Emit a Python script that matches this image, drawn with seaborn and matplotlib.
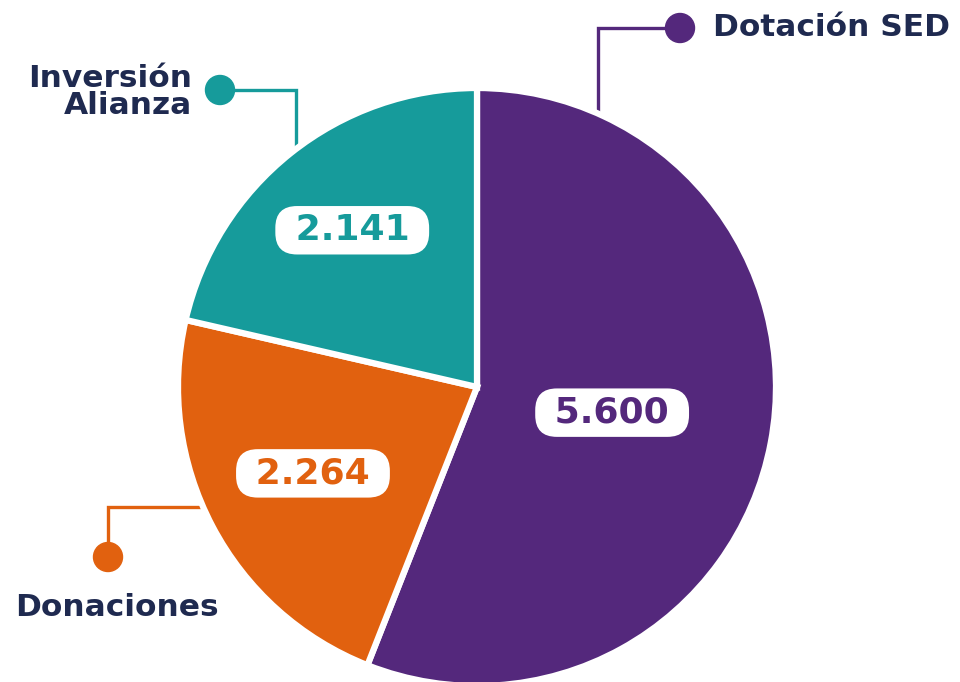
import matplotlib
matplotlib.use("Agg")
import matplotlib.pyplot as plt
import seaborn as sns
import numpy as np
from matplotlib.patches import Circle

# datos
categorias = ["Dotación SED", "Donaciones", "Inversión\nAlianza"]
valores = [5600, 2264, 2141]
etiquetas = ["5.600", "2.264", "2.141"]

colores = ["#54287c", "#e1610f", "#169b9b"]
azul = "#1f2a50"

sns.set_theme(style="white")
plt.rcParams['font.family'] = ['DejaVu Sans']

H = 682
fig = plt.figure(figsize=(9.6, 6.82), dpi=100)
ax = fig.add_axes([0, 0, 1, 1])

cx, cy, r = 477, H - 387, 299
wedges, _ = ax.pie(valores, colors=colores, startangle=90, counterclock=False,
                   center=(cx, cy), radius=r,
                   wedgeprops=dict(edgecolor='white', linewidth=4.5))
ax.set_xlim(0, 960)
ax.set_ylim(0, H)
ax.set_aspect('equal')
ax.axis('off')

# valores dentro de cada porcion
dist = [0.46, 0.62, 0.67]
for w, txt, c, d in zip(wedges, etiquetas, colores, dist):
    ang = np.deg2rad((w.theta1 + w.theta2) / 2)
    x = cx + d * r * np.cos(ang)
    y = cy + d * r * np.sin(ang)
    ax.text(x, y, " " + txt + " ", ha='center', va='center', fontsize=26,
            fontweight='bold', color=c, zorder=5,
            bbox=dict(boxstyle="round,pad=0.2,rounding_size=0.6",
                      fc='white', ec='none'))

# lineas guia (pixeles desde arriba)
guias = [
    [(598, 140), (598, 28), (680, 28)],
    [(235, 507), (108, 507), (108, 557)],
    [(296, 175), (296, 90), (220, 90)],
]
puntos = [(680, 28), (108, 557), (220, 90)]
textos = [(713, 28, 'left'), (15, 607, 'left'), (192, 92, 'right')]

for cat, c, g, p, t in zip(categorias, colores, guias, puntos, textos):
    xs = [q[0] for q in g]
    ys = [H - q[1] for q in g]
    ax.plot(xs, ys, color=c, lw=2.4, zorder=0.5, solid_joinstyle='miter')
    ax.add_patch(Circle((p[0], H - p[1]), 14.5, color=c, zorder=3))
    ax.text(t[0], H - t[1], cat, ha=t[2], va='center', fontsize=22.5,
            fontweight='bold', color=azul, linespacing=0.87,
            multialignment='right')

fig.savefig("out.png", dpi=100, facecolor='white')
